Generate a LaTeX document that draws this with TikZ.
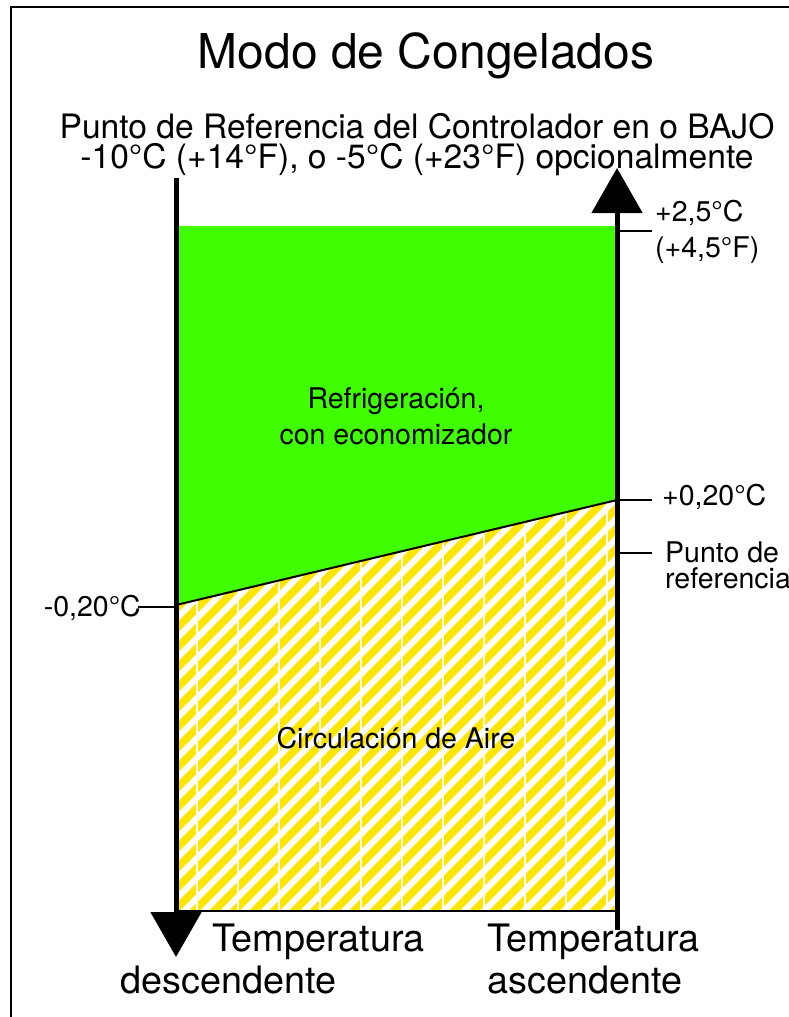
\documentclass[tikz,border=0pt]{standalone}
\usepackage{fontspec}
\setmainfont{TeX Gyre Heros}
\usetikzlibrary{arrows.meta}
\definecolor{frozengreen}{RGB}{64,255,0}
\definecolor{airyellow}{RGB}{255,230,0}
\tikzset{
  axisline/.style={line width=5pt,-{Triangle[width=50pt,length=45pt]}},
  tickline/.style={line width=2pt},
  lbl/.style={inner sep=0pt,anchor=base west,font=\fontsize{28.5}{30}\selectfont},
  inlbl/.style={inner sep=0pt,anchor=base,font=\fontsize{28.5}{30}\selectfont},
  bottomlbl/.style={inner sep=0pt,anchor=base west,font=\fontsize{37.8}{39}\selectfont},
  reflbl/.style={inner sep=0pt,anchor=base,align=center,font=\fontsize{33.6}{30}\selectfont},
}
\begin{document}
\begin{tikzpicture}[x=1pt,y=-1pt]
        \useasboundingbox (0,0) rectangle (789,1017);
        % frame
        \draw [line width=2.5pt] (11,1017) -- (11,7) -- (789,7);
        % zones
        \fill [frozengreen] (178,226) -- (615,226) -- (615,500) -- (178,605) -- cycle;
        \begin{scope}
          \clip (178,605) -- (615,500) -- (615,911) -- (178,911) -- cycle;
          \fill [airyellow] (170,480) rectangle (620,915);
          \foreach \s in {-340,-320,...,640}
            \draw [white,line width=6.2pt] (\s,915) -- ++(480,-480);
          \foreach \v in {197,238,...,610}
            \draw [white,line width=1.5pt] (\v,480) -- (\v,915);
        \end{scope}
        \coordinate (slopeL) at (176,605);
        \coordinate (slopeR) at (617,500);
        \draw [tickline] (slopeL) -- (slopeR);
        \draw [tickline] (176,911) -- (617,911);
        % axes
        \coordinate (downtop) at (176,178);
        \coordinate (downend) at (176,957);
        \coordinate (upbot) at (617,930);
        \coordinate (upend) at (617,168);
        \draw [axisline] (downtop) -- (downend);
        \draw [axisline] (upbot) -- (upend);
        % ticks
        \coordinate (tkA) at (617,231);
        \coordinate (tkB) at (617,500);
        \coordinate (tkC) at (617,553);
        \coordinate (tkD) at (176,607);
        \draw [tickline] (tkA) -- ++(35,0);
        \draw [tickline] (tkB) -- ++(35,0);
        \draw [tickline] (tkC) -- ++(35,0);
        \draw [tickline] (tkD) -- ++(-38,0);
        % texts
        \node (title) [inner sep=0pt,anchor=base,font=\fontsize{48}{50}\selectfont] at (426,68) {Modo de Congelados};
        \node (setref) [reflbl] at (417,168) {Punto de Referencia del Controlador en o BAJO\\-10°C (+14°F), o -5°C (+23°F) opcionalmente};
        \node (hiC) [lbl] at (655,221) {+2,5°C};
        \node (hiF) [lbl] at (655,257) {(+4,5°F)};
        \node (upC) [lbl] at (662,505) {+0,20°C};
        \node (spA) [lbl] at (665,562) {Punto de};
        \node (spB) [lbl] at (665,588) {referencia};
        \node (loC) [inner sep=0pt,anchor=base east,font=\fontsize{28.5}{30}\selectfont] at (141,616) {-0,20°C};
        \node (coolA) [inlbl] at (396,408) {Refrigeración,};
        \node (coolB) [inlbl] at (396,444) {con economizador};
        \node (air) [inlbl] at (396,748) {Circulación de Aire};
        \node (downA) [bottomlbl] at (212,951) {Temperatura};
        \node (downB) [bottomlbl] at (120,993) {descendente};
        \node (upA) [bottomlbl] at (487,951) {Temperatura};
        \node (upB) [bottomlbl] at (487,993) {ascendente};
      \end{tikzpicture}
\end{document}
